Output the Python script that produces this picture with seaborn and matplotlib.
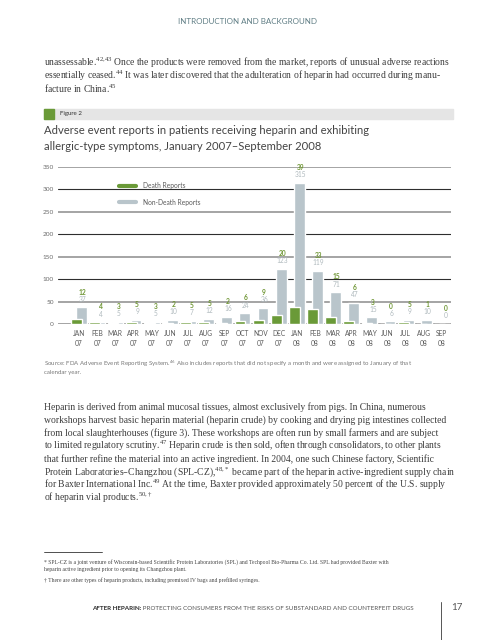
import numpy as np
import pandas as pd
import matplotlib
matplotlib.use("Agg")
import matplotlib.pyplot as plt
import seaborn as sns
from matplotlib.lines import Line2D
from matplotlib.patches import Rectangle

# data
months = ["JAN", "FEB", "MAR", "APR", "MAY", "JUN", "JUL", "AUG", "SEP", "OCT", "NOV", "DEC",
          "JAN", "FEB", "MAR", "APR", "MAY", "JUN", "JUL", "AUG", "SEP"]
years = ["07"] * 12 + ["08"] * 9
death_reports = [12, 4, 3, 5, 3, 2, 5, 5, 2, 6, 9, 20, 39, 33, 15, 6, 3, 0, 5, 1, 0]
non_death_reports = [37, 4, 5, 9, 5, 10, 7, 12, 16, 24, 36, 123, 315, 119, 71, 47, 15, 6, 9, 10, 0]
y_ticks = [0, 50, 100, 150, 200, 250, 300, 350]

GREEN = "#6a9a38"
GRAY_BAR = "#b9c5cb"
BODY = "#3c3c3c"

sns.set_style("white")
plt.rcParams["font.family"] = ["Lato", "DejaVu Sans"]
plt.rcParams["mathtext.default"] = "regular"

W, H = 495, 640
fig = plt.figure(figsize=(W / 100, H / 100), dpi=100)


def fx(x):
    return x / W


def fy(y):
    return 1 - y / H


df = pd.DataFrame({
    "idx": np.arange(len(months)),
    "death": death_reports,
    "non_death": non_death_reports,
})

ax = fig.add_axes([fx(58), fy(324), fx(451 - 58), (324 - 167) / H])
sns.barplot(x=df["idx"] + 0.14, y=df["non_death"], native_scale=True, width=0.6,
            color=GRAY_BAR, saturation=1, ax=ax)
sns.barplot(x=df["idx"] - 0.13, y=df["death"], native_scale=True, width=0.6,
            color=GREEN, saturation=1, ax=ax)
for p in ax.patches:
    p.set_zorder(3)
for p in ax.patches[len(months):]:
    p.set_zorder(4)

# gridlines: alternating grey / dark
for t in y_ticks:
    dark = t in (100, 200, 300)
    ax.axhline(t, color="#2e2e2e" if dark else "#8c8c8c", lw=0.8 if dark else 1.1, zorder=1)

ax.set_ylim(0, 350)
ax.set_xlim(-1.16, 20.5)
ax.set_yticks(y_ticks)
ax.set_yticklabels([str(t) for t in y_ticks], fontsize=4.6, color="#6a6a6a")
ax.set_xticks(df["idx"])
ax.set_xticklabels([f"{m}\n{y}" for m, y in zip(months, years)], fontsize=4.8,
                   color="#5a5a5a", linespacing=1.6)
ax.tick_params(axis="both", length=0)
ax.tick_params(axis="y", pad=3)
ax.tick_params(axis="x", pad=4)
ax.set_xlabel("")
ax.set_ylabel("")
sns.despine(ax=ax, left=True, bottom=True)

for i, (d, nd) in enumerate(zip(death_reports, non_death_reports)):
    ax.text(i + 0.2, nd + 18, str(nd), ha="center", va="center", fontsize=4.8, color="#b0babe")
    ax.text(i + 0.2, nd + 34, str(d), ha="center", va="center", fontsize=4.8, color="#6f9634",
            fontweight="bold")

handles = [Line2D([], [], color=GREEN, lw=3), Line2D([], [], color=GRAY_BAR, lw=3)]
fig.legend(handles, ["Death Reports", "Non-Death Reports"], loc="upper left",
           bbox_to_anchor=(fx(113), fy(176)), frameon=False, fontsize=4.8,
           handlelength=2.6, labelspacing=1.45, handletextpad=1.0, labelcolor="#5a5a5a")

# page furniture
fig.text(fx(248), fy(22), "INTRODUCTION AND BACKGROUND", ha="center", va="center",
         fontsize=5.8, color="#5f7d84")

serif = ["Liberation Serif", "DejaVu Serif"]
para1 = [
    "unassessable.$^{42{,}43}$ Once the products were removed from the market, reports of unusual adverse reactions",
    "essentially ceased.$^{44}$ It was later discovered that the adulteration of heparin had occurred during manu-",
    "facture in China.$^{45}$",
]
for k, line in enumerate(para1):
    fig.text(fx(44), fy(63 + 12.9 * k), line, ha="left", va="center", fontsize=6.9,
             color=BODY, family=serif)

fig.patches.append(Rectangle((fx(44), fy(119)), fx(453 - 44), 10 / H, transform=fig.transFigure,
                             color="#e5e5e5", zorder=0))
fig.patches.append(Rectangle((fx(44), fy(119)), fx(10), 10 / H, transform=fig.transFigure,
                             color=GREEN, zorder=1))
fig.text(fx(60), fy(114), "Figure 2", ha="left", va="center", fontsize=4.4, color="#333333")

fig.text(fx(44), fy(130), "Adverse event reports in patients receiving heparin and exhibiting",
         ha="left", va="center", fontsize=8.15, color="#444444")
fig.text(fx(44), fy(146), "allergic-type symptoms, January 2007\u2013September 2008",
         ha="left", va="center", fontsize=8.15, color="#444444")

fig.text(fx(44), fy(363.5), "Source: FDA Adverse Event Reporting System.$^{46}$ Also includes reports "
         "that did not specify a month and were assigned to January of that",
         ha="left", va="center", fontsize=4.4, color="#7a7a7a")
fig.text(fx(44), fy(372.5), "calendar year.", ha="left", va="center", fontsize=4.4, color="#7a7a7a")

para2 = [
    "Heparin is derived from animal mucosal tissues, almost exclusively from pigs. In China, numerous",
    "workshops harvest basic heparin material (heparin crude) by cooking and drying pig intestines collected",
    "from local slaughterhouses (figure 3). These workshops are often run by small farmers and are subject",
    "to limited regulatory scrutiny.$^{47}$ Heparin crude is then sold, often through consolidators, to other plants",
    "that further refine the material into an active ingredient. In 2004, one such Chinese factory, Scientific",
    "Protein Laboratories\u2013Changzhou (SPL-CZ),$^{48{,}*}$ became part of the heparin active-ingredient supply chain",
    "for Baxter International Inc.$^{49}$ At the time, Baxter provided approximately 50 percent of the U.S. supply",
    "of heparin vial products.$^{50{,}\\dagger}$",
]
for k, line in enumerate(para2):
    fig.text(fx(44), fy(407 + 12.96 * k), line, ha="left", va="center", fontsize=6.9,
             color=BODY, family=serif)

fig.add_artist(Line2D([fx(44), fx(102)], [fy(552), fy(552)], color="#333333", lw=0.6))
notes = [
    (562, "* SPL-CZ is a joint venture of Wisconsin-based Scientific Protein Laboratories (SPL) and "
          "Techpool Bio-Pharma Co. Ltd. SPL had provided Baxter with"),
    (570, "heparin active ingredient prior to opening its Changzhou plant."),
    (580, "\u2020 There are other types of heparin products, including premixed IV bags and prefilled syringes."),
]
for y, line in notes:
    fig.text(fx(44), fy(y), line, ha="left", va="center", fontsize=4.1, color="#444444", family=serif)

t1 = fig.text(fx(92), fy(608), "AFTER HEPARIN:", ha="left", va="center", fontsize=4.5,
              color="#2a2a2a", fontweight="bold")
fig.add_artist(plt.Annotation(" PROTECTING CONSUMERS FROM THE RISKS OF SUBSTANDARD AND COUNTERFEIT DRUGS",
                              xy=(1, 0.5), xycoords=t1, ha="left", va="center", fontsize=4.5,
                              color="#555555"))
fig.add_artist(Line2D([fx(441), fx(441)], [fy(602), fy(640)], color="#555555", lw=0.7))
fig.text(fx(451), fy(608), "17", ha="left", va="center", fontsize=7, color="#555555")

fig.savefig("out.png", dpi=100)
